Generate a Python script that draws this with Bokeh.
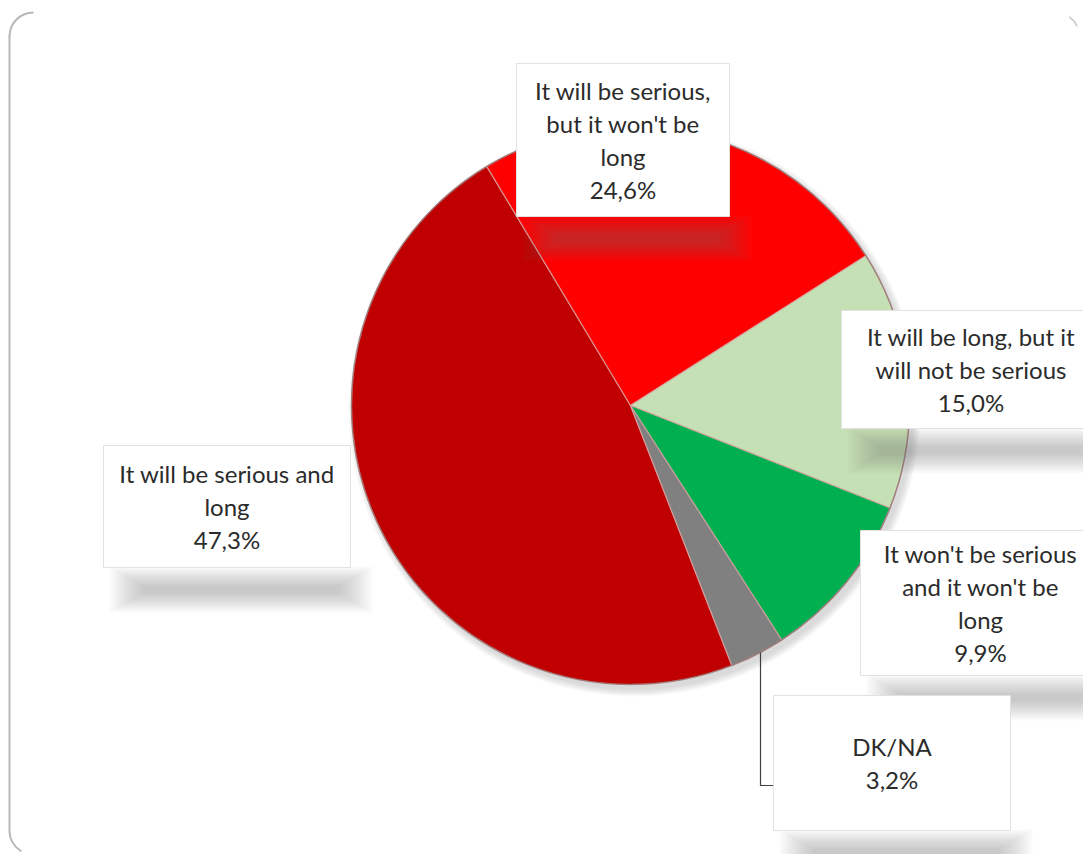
import math
import textwrap
from bokeh.plotting import figure
from bokeh.embed import file_html
from bokeh.resources import INLINE
from bokeh.core.properties import value

# ---- data ----
categories = [
    "It will be serious and long",
    "It will be serious, but it won't be long",
    "It will be long, but it will not be serious",
    "It won't be serious and it won't be long",
    "DK/NA",
]
shares = [47.3, 24.6, 15.0, 9.9, 3.2]
colors = ["#C00000", "#FF0000", "#C5E0B4", "#00B050", "#808080"]

# ---- layout (pixel space, y downward) ----
W, H = 1083, 854
CX, CY, R = 630, 405, 279
START_CW = 158.7  # degrees clockwise from 12 o'clock where first slice starts
wrap_widths = [22, 19, 23, 19, 10]
label_boxes = [  # left, top, right, bottom
    (103, 445, 350, 567),
    (516, 63, 729, 216),
    (841, 310, 1092, 428),
    (860, 530, 1092, 675),
    (773, 695, 1010, 830),
]
LINE_H = 33
FONT = "Lato"
FONT_SIZE = "24px"
TEXT_COLOR = "#2b2b2b"


def Y(py):
    return H - py


p = figure(width=W, height=H, x_range=(0, W), y_range=(0, H),
           output_backend="svg", toolbar_location=None, min_border=0)
p.axis.visible = False
p.grid.visible = False
p.outline_line_color = None
p.background_fill_color = "white"
p.border_fill_color = "white"

# frame: left edge with rounded corners
p.line([9, 9], [Y(35), Y(830)], line_color="#b8b8b8", line_width=2)
p.arc(x=[33], y=[Y(36)], radius=24, start_angle=math.radians(90), end_angle=math.radians(180),
      line_color="#b8b8b8", line_width=2)
p.arc(x=[33], y=[Y(830)], radius=24, start_angle=math.radians(180), end_angle=math.radians(240),
      line_color="#b8b8b8", line_width=2)
p.arc(x=[1055], y=[Y(36)], radius=24, start_angle=math.radians(25), end_angle=math.radians(55),
      line_color="#c8c8c8", line_width=1.5)

# pie shadow
for k in range(8):
    p.circle(x=[CX + 4], y=[Y(CY + 5)], radius=R + 7 - k, fill_color="#808080",
             fill_alpha=0.045, line_color=None)

# wedges
total = sum(shares)
cum = START_CW
starts, ends = [], []
for s in shares:
    a0 = cum
    a1 = cum + s / total * 360.0
    starts.append(math.radians(90 - a0))
    ends.append(math.radians(90 - a1))
    cum = a1
p.wedge(x=[CX] * len(shares), y=[Y(CY)] * len(shares), radius=R,
        start_angle=starts, end_angle=ends, direction="clock",
        fill_color=colors, line_color="#d9a3a3", line_alpha=0.8, line_width=1.2)
p.circle(x=[CX], y=[Y(CY)], radius=R, fill_color=None, line_color="#8c6b6b",
         line_alpha=0.7, line_width=1.5)

# leader line for DK/NA
lb = label_boxes[4]
p.line([760, 760, lb[0]], [Y(652), Y(785), Y(785)], line_color="#404040", line_width=1.2)

# label box shadows (soft, layered)
for (l, t, r, b) in label_boxes:
    w = r - l
    for k in range(12):
        p.rect(x=[(l + r) / 2 + 14], y=[Y(b + 22)], width=w + 16 - 6 * k, height=46 - 3.5 * k,
               fill_color="#707070", fill_alpha=0.035, line_color=None)

# label boxes and text
for i, (l, t, r, b) in enumerate(label_boxes):
    p.quad(left=[l], right=[r], top=[Y(t)], bottom=[Y(b)], fill_color="white",
           line_color="#e2e2e2", line_width=1)
    pct = f"{shares[i]:.1f}%".replace(".", ",")
    lines = textwrap.wrap(categories[i], wrap_widths[i]) + [pct]
    n = len(lines)
    cy = (t + b) / 2
    if i == 4:
        cy = 762
    xs = [(l + r) / 2 + (4 if i in (2, 3) else 0)] * n
    ys = [Y(cy + (j - (n - 1) / 2) * LINE_H) for j in range(n)]
    p.text(x=xs, y=ys, text=lines, text_align="center", text_baseline="middle",
           text_font=value(FONT), text_font_size=FONT_SIZE, text_color=TEXT_COLOR)

open("out.html", "w").write(file_html(p, INLINE))
